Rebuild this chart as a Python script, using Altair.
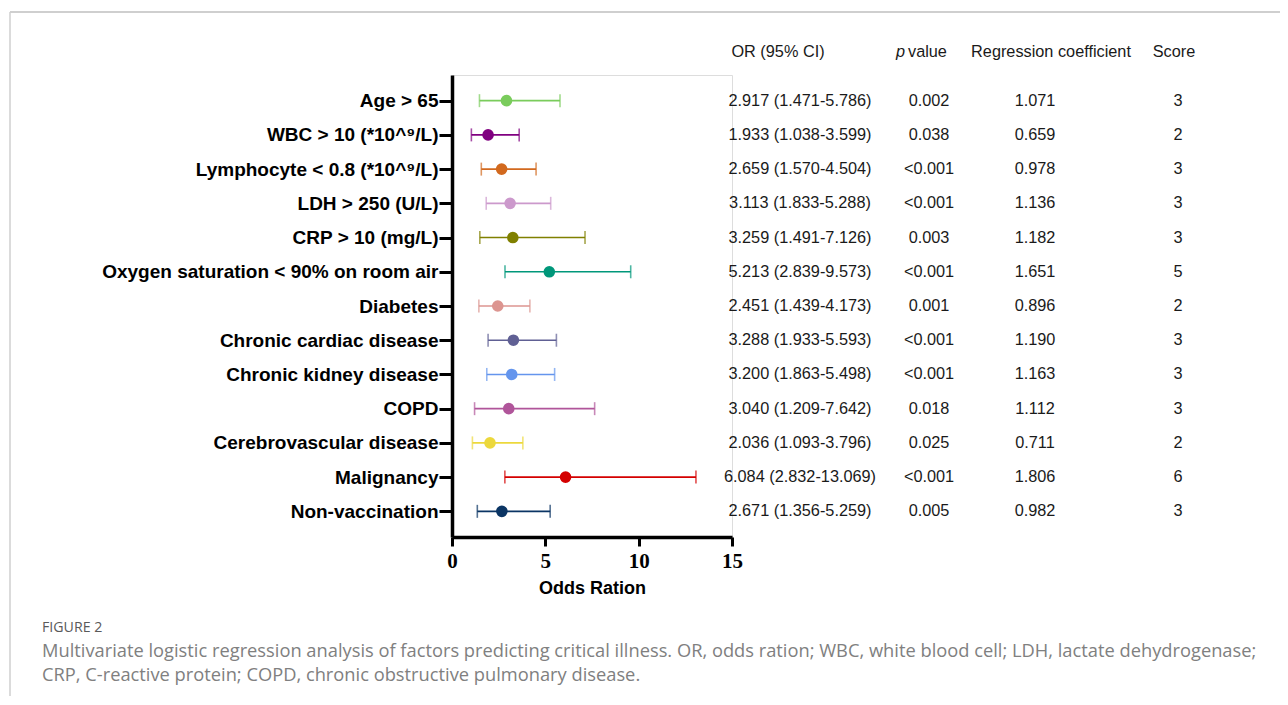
import altair as alt
import pandas as pd

factors = [
    "Age > 65",
    "WBC > 10 (*10^⁹/L)",
    "Lymphocyte < 0.8 (*10^⁹/L)",
    "LDH > 250 (U/L)",
    "CRP > 10 (mg/L)",
    "Oxygen saturation < 90% on room air",
    "Diabetes",
    "Chronic cardiac disease",
    "Chronic kidney disease",
    "COPD",
    "Cerebrovascular disease",
    "Malignancy",
    "Non-vaccination",
]
odds = [2.917, 1.933, 2.659, 3.113, 3.259, 5.213, 2.451, 3.288, 3.200, 3.040, 2.036, 6.084, 2.671]
ci_low = [1.471, 1.038, 1.570, 1.833, 1.491, 2.839, 1.439, 1.933, 1.863, 1.209, 1.093, 2.832, 1.356]
ci_high = [5.786, 3.599, 4.504, 5.288, 7.126, 9.573, 4.173, 5.593, 5.498, 7.642, 3.796, 13.069, 5.259]
p_values = ["0.002", "0.038", "<0.001", "<0.001", "0.003", "<0.001", "0.001",
            "<0.001", "<0.001", "0.018", "0.025", "<0.001", "0.005"]
coefs = ["1.071", "0.659", "0.978", "1.136", "1.182", "1.651", "0.896",
         "1.190", "1.163", "1.112", "0.711", "1.806", "0.982"]
scores = ["3", "2", "3", "3", "3", "5", "2", "3", "3", "3", "2", "6", "3"]
colors = ["#7acc5c", "#800080", "#d2691e", "#cc99cc", "#808000", "#00977a", "#dc9590",
          "#606094", "#6495ed", "#b0559a", "#ecd83c", "#d40000", "#0b3564"]
x_ticks = [0, 5, 10, 15]

caption_head = "FIGURE 2"
caption_lines = [
    "Multivariate logistic regression analysis of factors predicting critical illness. OR, odds ration; WBC, white blood cell; LDH, lactate dehydrogenase;",
    "CRP, C-reactive protein; COPD, chronic obstructive pulmonary disease.",
]

df = pd.DataFrame({
    "factor": factors,
    "or": odds,
    "lo": ci_low,
    "hi": ci_high,
    "p": p_values,
    "coef": coefs,
    "score": scores,
})
df["or_text"] = [f"{o:.3f} ({l:.3f}-{h:.3f})" for o, l, h in zip(odds, ci_low, ci_high)]

W, H = 280, 462
SANS = "Liberation Sans"
TXT = 16.3

y_enc = alt.Y("factor:N", sort=factors,
              scale=alt.Scale(type="point", padding=0.75),
              axis=alt.Axis(title=None, labelFont=SANS, labelFontWeight="bold",
                            labelFontSize=19, labelColor="#000", labelLimit=0,
                            labelPadding=1, tickSize=13, tickWidth=3, tickColor="#000",
                            domainColor="#000", domainWidth=3.5, grid=False))
x_scale = alt.Scale(domain=[0, 15], nice=False, zero=True)
color_enc = alt.Color("factor:N", sort=factors,
                      scale=alt.Scale(domain=factors, range=colors), legend=None)

base = alt.Chart(df)

line = base.mark_rule(strokeWidth=1.6).encode(
    x=alt.X("lo:Q", scale=x_scale,
            axis=alt.Axis(values=x_ticks, title="Odds Ration", grid=False,
                          labelFont="Liberation Serif", labelFontWeight="bold",
                          labelFontSize=21, labelColor="#000", labelPadding=4,
                          labelFlush=False,
                          tickSize=9, tickWidth=3, tickColor="#000",
                          domainColor="#000", domainWidth=3.5,
                          titleFont=SANS, titleFontWeight="bold", titleFontSize=18,
                          titleColor="#000", titlePadding=8)),
    x2="hi:Q",
    y=y_enc,
    color=color_enc,
)
cap_lo = base.mark_tick(thickness=1.6, size=13, orient="vertical").encode(
    x=alt.X("lo:Q", scale=x_scale), y=alt.Y("factor:N", sort=factors), color=color_enc)
cap_hi = base.mark_tick(thickness=1.6, size=13, orient="vertical").encode(
    x=alt.X("hi:Q", scale=x_scale), y=alt.Y("factor:N", sort=factors), color=color_enc)
pts = base.mark_point(filled=True, opacity=1, size=135, shape="circle").encode(
    x=alt.X("or:Q", scale=x_scale), y=alt.Y("factor:N", sort=factors), color=color_enc)


def col_text(field, xpos):
    return base.mark_text(font=SANS, fontSize=TXT, color="#1a1a1a", align="center",
                          baseline="middle").encode(
        x=alt.value(xpos), y=alt.Y("factor:N", sort=factors), text=f"{field}:N")


def note(text, xpos, ypos, size=TXT, color="#1a1a1a", align="center", font=SANS,
         style="normal", weight="normal"):
    return alt.Chart(pd.DataFrame({"t": [text]})).mark_text(
        font=font, fontSize=size, color=color, align=align, baseline="middle",
        fontStyle=style, fontWeight=weight).encode(
        x=alt.value(xpos), y=alt.value(ypos), text="t:N")


def frame_rule(x1, x2, y1, y2, color="#cfcfcf", width=1.5):
    return alt.Chart(pd.DataFrame({"a": [0]})).mark_rule(color=color, strokeWidth=width).encode(
        x=alt.value(x1), x2=alt.value(x2), y=alt.value(y1), y2=alt.value(y2))


layers = [
    frame_rule(-442, 840, -63, -63, width=2),
    frame_rule(-442, -442, -63, 640),
    line, cap_lo, cap_hi, pts,
    col_text("or_text", 348),
    col_text("p", 477),
    col_text("coef", 583),
    col_text("score", 726),
    note("OR (95% CI)", 326, -23),
    note("p", 453, -23, style="italic", align="right"),
    note("value", 456, -23, align="left"),
    note("Regression coefficient", 599, -23),
    note("Score", 722, -23),
    note(caption_head, -410, 553, size=14.2, color="#5a5a5a", font="Open Sans", align="left"),
    note(caption_lines[0], -410, 577, size=18.3, color="#808080", font="Open Sans", align="left"),
    note(caption_lines[1], -410, 601, size=18.3, color="#808080", font="Open Sans", align="left"),
]

chart = alt.layer(*layers).properties(
    width=W, height=H,
    autosize=alt.AutoSizeParams(type="none"),
    padding={"left": 444, "top": 67, "right": 1272 - 444 - W, "bottom": 688 - 67 - H},
).configure_view(stroke=None).configure(background="white")

chart.save("out.html", embed_options={"renderer": "svg", "actions": False})
